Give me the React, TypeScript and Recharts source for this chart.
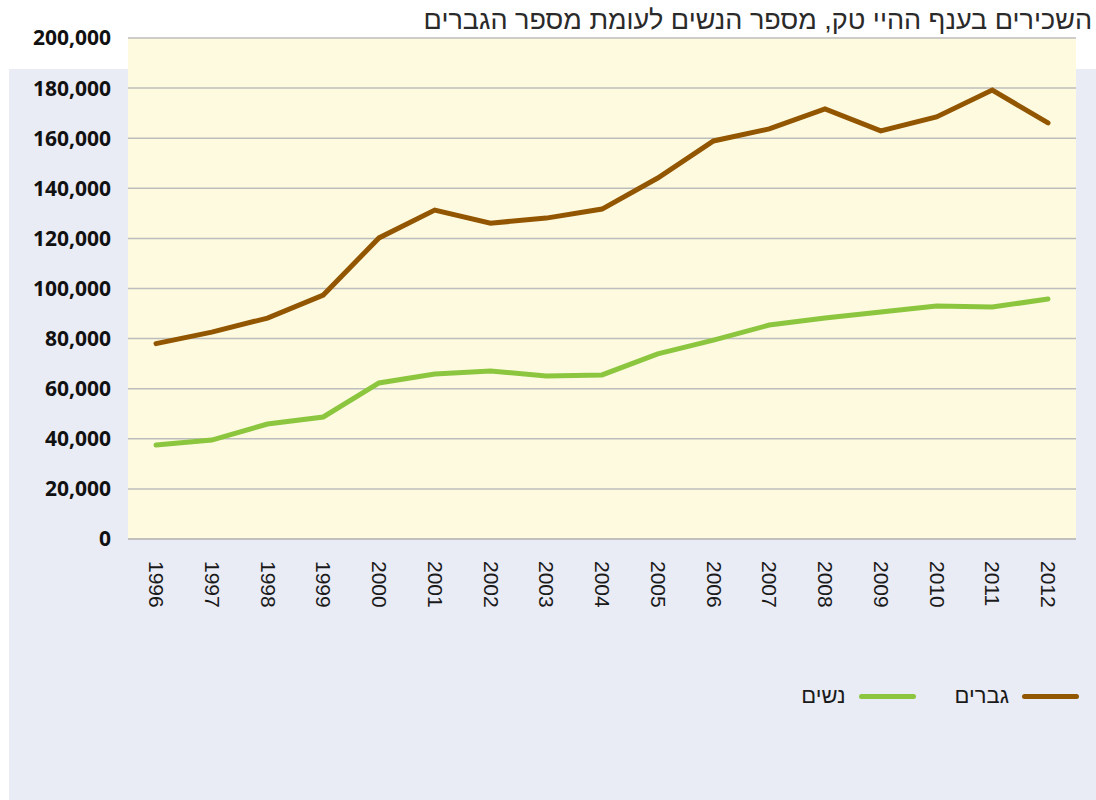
import { LineChart, Line, XAxis, YAxis, CartesianGrid, Legend } from "recharts";

const years = ["1996", "1997", "1998", "1999", "2000", "2001", "2002", "2003", "2004", "2005", "2006", "2007", "2008", "2009", "2010", "2011", "2012"];
const men = [78000, 82600, 88200, 97400, 120200, 131300, 126100, 128100, 131700, 144100, 158900, 163700, 171700, 162900, 168500, 179200, 166100];
const women = [37500, 39500, 45900, 48700, 62300, 65900, 67100, 65100, 65500, 73900, 79400, 85400, 88200, 90600, 93000, 92600, 95800];
const yTicks = [0, 20000, 40000, 60000, 80000, 100000, 120000, 140000, 160000, 180000, 200000];

const data = years.map((year, i) => ({ year, men: men[i], women: women[i] }));

const BROWN = "#935600";
const GREEN = "#8cc63f";

function YearTick(props: any) {
  const { x, y, payload } = props;
  return (
    <text
      x={x}
      y={y}
      transform={`rotate(90 ${x} ${y})`}
      dx={14}
      dy={7}
      textAnchor="start"
      fill="#1a1a1a"
      fontSize={21}
      fontFamily="'Liberation Sans', Arial, sans-serif"
    >
      {payload.value}
    </text>
  );
}

function LegendContent() {
  const items = [
    { label: "גברים", color: BROWN },
    { label: "נשים", color: GREEN },
  ];
  return (
    <div
      style={{
        display: "flex",
        direction: "rtl",
        justifyContent: "flex-start",
        paddingRight: 17,
        fontFamily: "'Liberation Sans', Arial, sans-serif",
        fontSize: 22,
        color: "#1a1a1a",
      }}
    >
      {items.map((it) => (
        <div key={it.label} style={{ display: "flex", alignItems: "center", marginLeft: 39 }}>
          <span style={{ width: 57, height: 5, borderRadius: 3, background: it.color, marginLeft: 13 }} />
          <span>{it.label}</span>
        </div>
      ))}
    </div>
  );
}

export default function App() {
  return (
    <div style={{ position: "absolute", left: 0, top: 0, width: 1096, height: 800, background: "#fff", overflow: "hidden" }}>
      <div style={{ position: "absolute", left: 9, top: 69, width: 1087, height: 731, background: "#e9ebf5" }} />
      <div
        style={{
          position: "absolute",
          right: 4,
          top: 5,
          direction: "rtl",
          fontFamily: "'Liberation Sans', Arial, sans-serif",
          fontSize: 27,
          color: "#2a2a2a",
          whiteSpace: "nowrap",
        }}
      >
        השכירים בענף ההיי טק, מספר הנשים לעומת מספר הגברים
      </div>
      <div style={{ position: "absolute", left: 0, top: 0 }}>
        <LineChart width={1096} height={800} data={data} margin={{ top: 38, right: 20, left: 0, bottom: 161 }}>
          <CartesianGrid vertical={false} stroke="#bdbdbd" strokeWidth={1.5} fill="#fefadf" fillOpacity={1} />
          <XAxis
            dataKey="year"
            height={100}
            interval={0}
            padding={{ left: 28, right: 28 }}
            tickLine={false}
            axisLine={{ stroke: "#bdbdbd", strokeWidth: 1.5 }}
            tick={<YearTick />}
          />
          <YAxis
            width={128}
            domain={[0, 200000]}
            ticks={yTicks}
            interval={0}
            axisLine={false}
            tickLine={false}
            tickSize={0}
            tickMargin={17}
            tickFormatter={(v: number) => v.toLocaleString("en-US")}
            tick={{ fill: "#111", fontSize: 21, fontWeight: 700, fontFamily: "'Noto Sans', sans-serif" }}
          />
          <Line dataKey="men" name="גברים" stroke={BROWN} strokeWidth={5} dot={false} isAnimationActive={false} strokeLinecap="round" />
          <Line dataKey="women" name="נשים" stroke={GREEN} strokeWidth={5} dot={false} isAnimationActive={false} strokeLinecap="round" />
          <Legend
            layout="horizontal"
            verticalAlign="middle"
            align="center"
            content={<LegendContent />}
            wrapperStyle={{ top: 683, left: 0, width: 1096 }}
          />
        </LineChart>
      </div>
    </div>
  );
}
